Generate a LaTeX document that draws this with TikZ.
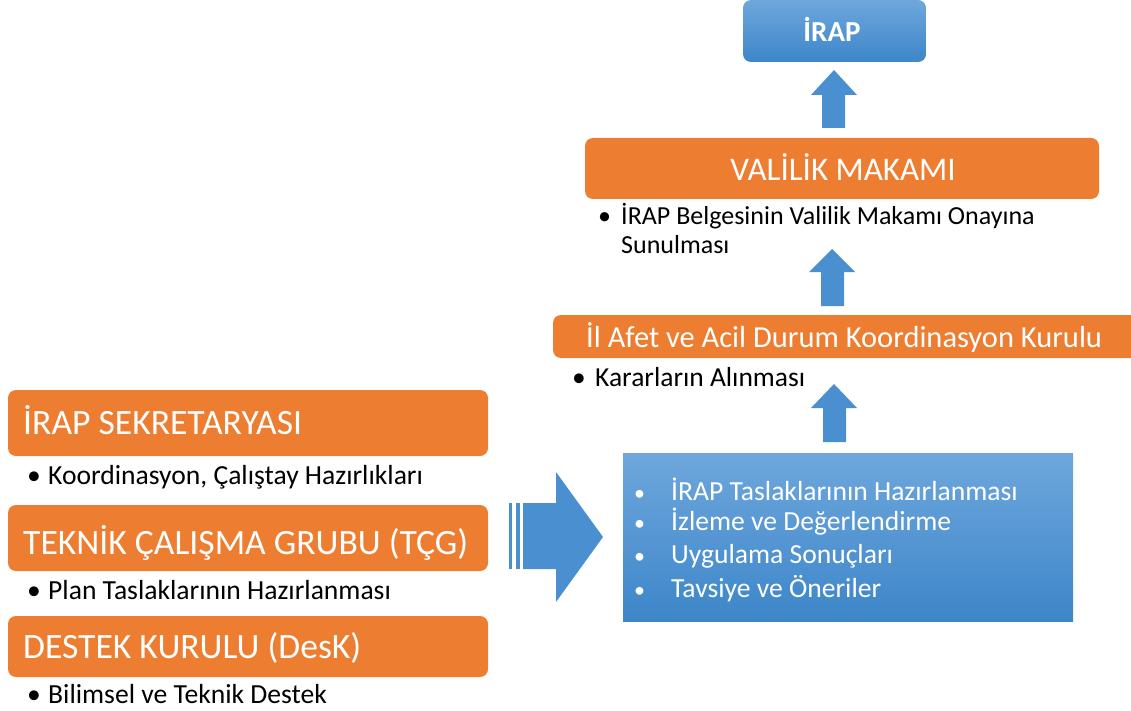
\documentclass[tikz,border=0pt]{standalone}
\usepackage{fontspec}
\setmainfont{Carlito}
\definecolor{org}{HTML}{ED7D31}
\definecolor{bltop}{HTML}{6EA7DC}
\definecolor{blbot}{HTML}{3D86C9}
\definecolor{arr}{HTML}{4A90D0}
\begin{document}
\begin{tikzpicture}[x=1pt,y=-1pt,
  obox/.style={fill=org,rounded corners=8pt},
  btext/.style={anchor=base west,text=white,inner sep=0pt},
  ktext/.style={anchor=base west,text=black,inner sep=0pt},
  arrshape/.style={fill=arr}]
\useasboundingbox (0,0) rectangle (1131,711);
\clip (0,0) rectangle (1131,711);
% top IRAP box
\shade[top color=bltop,bottom color=blbot,rounded corners=8pt] (743,0) rectangle (926,62);
\node[anchor=base,text=white,inner sep=0pt,font=\fontsize{29}{34}\selectfont\bfseries] (irap) at (832,42) {İRAP};
% arrow 1
\fill[arrshape] (834,70) -- (857,95) -- (845,95) -- (845,128) -- (822,128) -- (822,95) -- (811,95) -- cycle;
% VALILIK
\fill[obox] (585,138) rectangle (1099,199);
\node[anchor=base,text=white,inner sep=0pt,font=\fontsize{33}{40}\selectfont] (vali) at (843,181) {VALİLİK MAKAMI};
\node[ktext,font=\fontsize{26}{31}\selectfont] (b1) at (598,225) {•};
\node[ktext,font=\fontsize{26}{31}\selectfont] (vt1) at (621,225) {İRAP Belgesinin Valilik Makamı Onayına};
\node[ktext,font=\fontsize{26}{31}\selectfont] (vt2) at (621,254) {Sunulması};
% arrow 2
\fill[arrshape] (832,249) -- (855,272) -- (844,272) -- (844,306) -- (821,306) -- (821,272) -- (809,272) -- cycle;
% Il Afet
\fill[obox] (553,315) rectangle (1160,358);
\node[btext,font=\fontsize{30.5}{36}\selectfont] (afet) at (586,347) {İl Afet ve Acil Durum Koordinasyon Kurulu};
\node[ktext,font=\fontsize{27.5}{33}\selectfont] (b2) at (572,386) {•};
\node[ktext,font=\fontsize{27.5}{33}\selectfont] (kt) at (595,386) {Kararların Alınması};
% arrow 3
\fill[arrshape] (834,384) -- (857,408) -- (846,408) -- (846,442) -- (823,442) -- (823,408) -- (811,408) -- cycle;
% blue box
\shade[top color=bltop,bottom color=blbot] (623,453) rectangle (1073,621);
\foreach \yy/\tt [count=\i] in {500/İRAP Taslaklarının Hazırlanması,530/İzleme ve Değerlendirme,563/Uygulama Sonuçları,597/Tavsiye ve Öneriler}{
  \node[btext,font=\fontsize{22}{26}\selectfont] (bb\i) at (634,\yy) {•};
  \node[btext,font=\fontsize{27.6}{33}\selectfont] (bt\i) at (671,\yy) {\tt};
}
% big right arrow
\fill[arrshape] (509,503) rectangle (512,569);
\fill[arrshape] (516,503) rectangle (520,569);
\fill[arrshape] (523,503) -- (556,503) -- (556,472) -- (603,537) -- (556,602) -- (556,569) -- (523,569) -- cycle;
% left boxes
\fill[obox] (8,390) rectangle (488,456);
\node[btext,font=\fontsize{35.6}{42}\selectfont] (sek) at (23,434) {İRAP SEKRETARYASI};
\node[ktext,font=\fontsize{27.6}{33}\selectfont] (lb1) at (27,484) {•};
\node[ktext,font=\fontsize{27.6}{33}\selectfont] (lt1) at (48,484) {Koordinasyon, Çalıştay Hazırlıkları};
\fill[obox] (8,505) rectangle (488,571);
\node[btext,font=\fontsize{35.6}{42}\selectfont] (tcg) at (23,554) {TEKNİK ÇALIŞMA GRUBU (TÇG)};
\node[ktext,font=\fontsize{27.6}{33}\selectfont] (lb2) at (27,599) {•};
\node[ktext,font=\fontsize{27.6}{33}\selectfont] (lt2) at (48,599) {Plan Taslaklarının Hazırlanması};
\fill[obox] (8,616) rectangle (488,677);
\node[btext,font=\fontsize{35.6}{42}\selectfont] (desk) at (23,658) {DESTEK KURULU (DesK)};
\node[ktext,font=\fontsize{27.6}{33}\selectfont] (lb3) at (27,703) {•};
\node[ktext,font=\fontsize{27.6}{33}\selectfont] (lt3) at (48,703) {Bilimsel ve Teknik Destek};
\end{tikzpicture}
\end{document}
